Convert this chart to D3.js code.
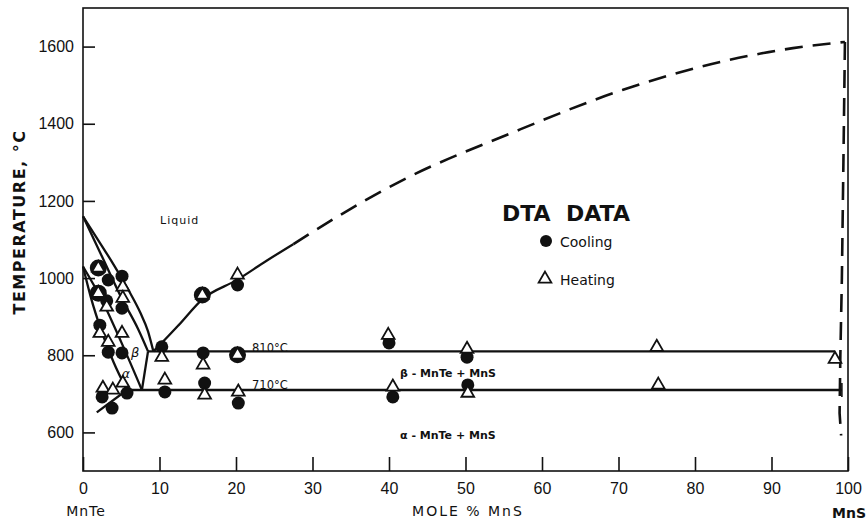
<!DOCTYPE html>
<meta charset="utf-8">
<style>
    body { margin: 0; background: #fff; }
    svg { font-family: "DejaVu Sans", Verdana, sans-serif; }
    .phase { fill: none; stroke: #111; stroke-width: 2.3px; }
    .dashed { stroke-dasharray: 18 10; stroke-width: 2.6px; }
    .frame { fill: none; stroke: #111; stroke-width: 1.6px; }
    .axis line { stroke: #111; stroke-width: 1.6px; }
    .axis text { fill: #111; font-size: 16px; }
    .lbl { fill: #111; }
</style>
<svg width="866" height="529"></svg>
<script src="https://d3js.org/d3.v7.min.js"></script>
<script>

    // tick labels
    var xTicks = [0, 10, 20, 30, 40, 50, 60, 70, 80, 90, 100];
    var yTicks = [600, 800, 1000, 1200, 1400, 1600];

    // DTA readings [mole % MnS, temperature C]
    var cooling = [
        [3.3, 995], [5.1, 1005], [3.1, 941], [5.1, 922], [2.2, 878],
        [3.3, 808], [5.1, 806], [2.5, 692], [5.75, 702], [3.8, 663],
        [10.3, 822], [10.7, 705], [15.7, 806], [15.9, 728], [20.2, 982],
        [20.3, 676], [40.0, 832], [40.5, 692], [50.2, 795], [50.3, 723]
    ];
    var heating = [
        [5.2, 977], [3.1, 925], [5.2, 948], [2.2, 857], [3.3, 834],
        [5.1, 857], [2.6, 715], [3.9, 710], [5.2, 728], [10.3, 795],
        [10.7, 736], [15.7, 775], [15.9, 697], [20.2, 1008], [20.3, 705],
        [39.9, 852], [40.5, 718], [50.2, 816], [50.3, 702], [75.0, 821],
        [75.2, 723], [98.3, 790]
    ];
    // cooling and heating gave the same reading
    var both = [[2.0, 1026], [2.0, 961], [15.6, 956], [20.2, 801]];

    // phase boundaries
    var liquidusTe = [[0, 1160], [2, 1098], [4, 1035], [6, 967], [7.5, 910], [8.5, 862], [9.2, 810]];
    var solidusTe = [[0, 1160], [2.5, 1055], [5, 950], [7.2, 868], [8.5, 810]];
    var betaSolvus = [[8.5, 810], [7.7, 710]];
    var betaLower = [[0, 1030], [2.5, 942], [5, 834], [7.7, 710]];
    var alphaBound = [[0, 1030], [1, 952], [2.5, 858], [4, 782], [5.75, 710]];
    var alphaSolvus = [[1.8, 652], [5.75, 710]];
    var eutectic = [[8.5, 810], [98.3, 810]];
    var eutectoid = [[5.75, 710], [99.2, 710]];
    var liquidusS = [[9.2, 810], [10.3, 832], [12.5, 878], [15.6, 945], [20.2, 996], [24, 1045], [27.5, 1088]];
    var liquidusSdash = [[27.5, 1088], [34, 1168], [41.8, 1254], [56, 1376], [70.6, 1488], [84.4, 1565], [92.8, 1596], [99.6, 1612]];
    var solidusSdash = [[99.6, 1612], [99.4, 1300], [99.2, 1000], [99.0, 800], [98.9, 650], [99.1, 592]];

    var svg = d3.select("svg"),
        plotL = 83, plotR = 848, plotT = 8, plotB = 471;

    var x = d3.scaleLinear().domain([0, 100]).range([plotL, plotR]);
    var y = d3.scaleLinear().domain([500, 1700]).range([plotB, plotT]);

    svg.append("rect").attr("class", "frame")
        .attr("x", plotL).attr("y", plotT)
        .attr("width", plotR - plotL).attr("height", plotB - plotT);

    var gx = svg.append("g").attr("class", "axis")
        .attr("transform", "translate(0," + plotB + ")")
        .call(d3.axisBottom(x).tickValues(xTicks).tickSizeInner(-14).tickSizeOuter(0).tickPadding(12));
    gx.select(".domain").remove();

    var gy = svg.append("g").attr("class", "axis")
        .attr("transform", "translate(" + plotL + ",0)")
        .call(d3.axisLeft(y).tickValues(yTicks).tickFormat(d3.format("d"))
            .tickSizeInner(-12).tickSizeOuter(0).tickPadding(9));
    gy.select(".domain").remove();

    var line = d3.line()
        .x(function (d) { return x(d[0]); })
        .y(function (d) { return y(d[1]); });
    var smooth = d3.line()
        .x(function (d) { return x(d[0]); })
        .y(function (d) { return y(d[1]); })
        .curve(d3.curveMonotoneX);

    [liquidusTe, solidusTe, betaLower, alphaBound, liquidusS].forEach(function (p) {
        svg.append("path").attr("class", "phase").attr("d", smooth(p));
    });
    [betaSolvus, alphaSolvus, eutectic, eutectoid].forEach(function (p) {
        svg.append("path").attr("class", "phase").attr("d", line(p));
    });
    svg.append("path").attr("class", "phase dashed").attr("d", smooth(liquidusSdash));
    svg.append("path").attr("class", "phase dashed").attr("d", line(solidusSdash));

    // end tick on the 710 line
    var end = eutectoid[1];
    svg.append("line").attr("stroke", "#111").attr("stroke-width", 1.6)
        .attr("x1", x(end[0])).attr("x2", x(end[0]))
        .attr("y1", y(end[1]) - 7).attr("y2", y(end[1]) + 7);

    var tri = d3.symbol(d3.symbolTriangle, 70);

    svg.selectAll(".cool").data(cooling).enter().append("circle")
        .attr("class", "cool")
        .attr("cx", function (d) { return x(d[0]); })
        .attr("cy", function (d) { return y(d[1]); })
        .attr("r", 6.5).attr("fill", "#111");

    svg.selectAll(".both").data(both).enter().append("circle")
        .attr("class", "both")
        .attr("cx", function (d) { return x(d[0]); })
        .attr("cy", function (d) { return y(d[1]); })
        .attr("r", 8.5).attr("fill", "#111");

    svg.selectAll(".heat").data(heating.concat(both)).enter().append("path")
        .attr("class", "heat")
        .attr("d", tri)
        .attr("transform", function (d) { return "translate(" + x(d[0]) + "," + y(d[1]) + ")"; })
        .attr("fill", "#fff").attr("stroke", "#111").attr("stroke-width", 1.8);

    // labels
    function label(txt, px, py, size, weight, style) {
        return svg.append("text").attr("class", "lbl")
            .attr("x", px).attr("y", py)
            .style("font-size", size + "px")
            .style("font-weight", weight || "normal")
            .style("font-style", style || "normal")
            .text(txt);
    }

    label("Liquid", 160, 224, 11).style("letter-spacing", "1px");
    label("β", 131, 357, 13, "normal", "italic");
    label("α", 122, 378, 12, "normal", "italic");
    label("810°C", 252, 352, 11.5);
    label("710°C", 252, 389, 11.5);
    label("β - MnTe  +  MnS", 400, 377, 11, "bold");
    label("α - MnTe  +  MnS", 400, 439, 11, "bold");

    label("DTA", 502, 221, 22, "bold");
    label("DATA", 566, 221, 22, "bold");
    svg.append("circle").attr("cx", 546).attr("cy", 241).attr("r", 6).attr("fill", "#111");
    label("Cooling", 560, 247, 14);
    svg.append("path").attr("d", tri).attr("transform", "translate(545,279)")
        .attr("fill", "#fff").attr("stroke", "#111").attr("stroke-width", 1.8);
    label("Heating", 560, 285, 14);

    label("MnTe", 86, 516, 14).attr("text-anchor", "middle").style("letter-spacing", "1px");
    label("MOLE % MnS", 468, 516, 14).attr("text-anchor", "middle").style("letter-spacing", "2px");
    label("MnS", 849, 518, 14, "bold").attr("text-anchor", "middle");

    label("TEMPERATURE, °C", 0, 0, 16, "bold")
        .attr("text-anchor", "middle")
        .style("letter-spacing", "1.5px")
        .attr("transform", "translate(25,222) rotate(-90)");

</script>
